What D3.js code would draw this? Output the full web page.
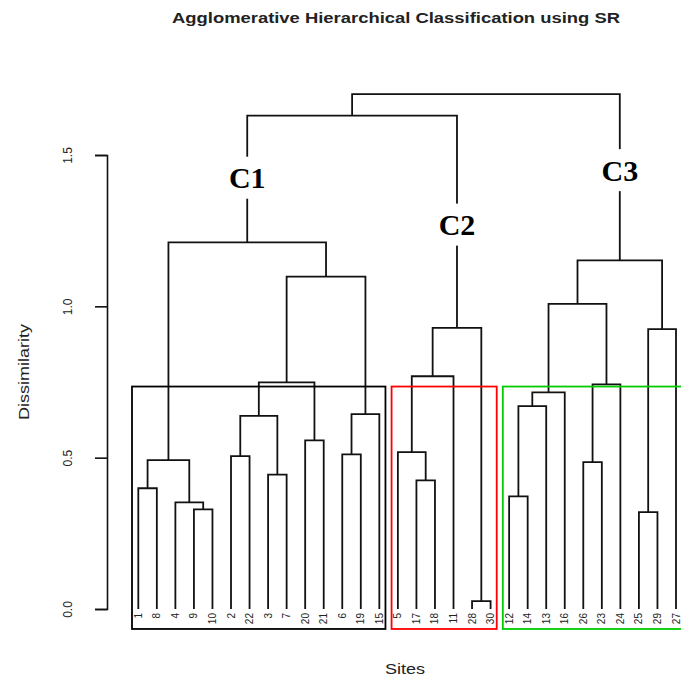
<!doctype html>
<html lang="en">
  <head>
    <meta charset="utf-8">
    <title>Agglomerative Hierarchical Classification using SR</title>
    <script src="https://d3js.org/d3.v7.min.js"></script>
    <style>
      body { margin: 0; background: #fff; }
      svg { display: block; font-family: 'Liberation Sans', Arial, sans-serif; }
    </style>
  </head>
  <body>
    <div id="root"></div>
  </body>
  <script>

    //data: leaf order, hclust-style merge table (negative = leaf position), heights
    const sites = ["1", "8", "4", "9", "10", "2", "22", "3", "7", "20", "21", "6", "19", "15",
                   "5", "17", "18", "11", "28", "30",
                   "12", "14", "13", "16", "26", "23", "24", "25", "29", "27"];
    const merges = [
      [-1, -2], [-4, -5], [-3, 2], [1, 3], [-6, -7], [-8, -9], [5, 6], [-10, -11], [7, 8],
      [-12, -13], [10, -14], [9, 11], [4, 12],
      [-16, -17], [-15, 14], [15, -18], [-19, -20], [16, 17], [13, 18],
      [-21, -22], [20, -23], [21, -24], [-25, -26], [23, -27], [22, 24], [-28, -29], [26, -30], [25, 27],
      [19, 28]
    ];
    const heights = [
      0.399, 0.329, 0.352, 0.492, 0.505, 0.444, 0.638, 0.557, 0.749,
      0.511, 0.644, 1.098, 1.211,
      0.425, 0.518, 0.769, 0.026, 0.929, 1.630,
      0.372, 0.670, 0.716, 0.485, 0.742, 1.008, 0.320, 0.925, 1.152,
      1.701
    ];
    // cluster boxes: first leaf, last leaf, colour
    const boxes = [[0, 13, "#000000"], [14, 19, "#ff0000"], [20, 29, "#00cd00"]];
    const boxTop = 0.735;
    // cluster labels: name, merge row, height where label sits
    const clusterNames = ["C1", "C2", "C3"];
    const clusterRows = [13, 18, 28];
    const clusterLabelH = [1.425, 1.27, 1.45];
    const yTicks = [0, 0.5, 1, 1.5];

    const width = 681;
    const height = 679;

    const x = d3.scaleLinear().domain([0, sites.length - 1]).range([138.3, 676]);
    const y = d3.scaleLinear().domain([0, 1.5]).range([609, 155]);

    const svg = d3.select("#root")
      .append("svg")
      .attr("width", width)
      .attr("height", height);

    //node positions
    const nodeX = [], nodeH = [];
    function pos(ref) {
      if (ref < 0) return [x(-ref - 1), 0];
      return [nodeX[ref - 1], nodeH[ref - 1]];
    }
    merges.forEach(function(m, i) {
      const a = pos(m[0]), b = pos(m[1]);
      nodeX[i] = (a[0] + b[0]) / 2;
      nodeH[i] = heights[i];
    });

    //dendrogram
    svg.append("g")
      .selectAll("path")
      .data(merges)
      .enter()
      .append("path")
      .attr("d", function(m, i) {
        const a = pos(m[0]), b = pos(m[1]);
        return "M" + a[0] + "," + y(a[1]) + "V" + y(heights[i]) + "H" + b[0] + "V" + y(b[1]);
      })
      .attr("fill", "none")
      .attr("stroke", "#111")
      .attr("stroke-width", 1.8);

    //leaf labels
    svg.append("g")
      .selectAll("text")
      .data(sites)
      .enter()
      .append("text")
      .text(function(d) { return d; })
      .attr("transform", function(d, i) {
        return "translate(" + (x(i) + 3.5) + "," + 613 + ") rotate(-90)";
      })
      .attr("text-anchor", "end")
      .attr("font-size", "10px")
      .attr("fill", "#222");

    //cluster boxes
    svg.append("g")
      .selectAll("rect")
      .data(boxes)
      .enter()
      .append("rect")
      .attr("x", function(d) { return x(d[0] - 0.34); })
      .attr("y", y(boxTop))
      .attr("width", function(d) { return x(d[1] + 0.33) - x(d[0] - 0.34); })
      .attr("height", y(-0.066) - y(boxTop))
      .attr("fill", "none")
      .attr("stroke", function(d) { return d[2]; })
      .attr("stroke-width", 1.8);

    //cluster names
    const cl = svg.append("g")
      .selectAll("g")
      .data(clusterNames)
      .enter()
      .append("g")
      .attr("transform", function(d, i) {
        return "translate(" + nodeX[clusterRows[i] - 1] + "," + y(clusterLabelH[i]) + ")";
      });
    cl.append("rect")
      .attr("x", -24).attr("y", -21).attr("width", 48).attr("height", 42)
      .attr("fill", "#fff");
    cl.append("text")
      .text(function(d) { return d; })
      .attr("text-anchor", "middle")
      .attr("dy", "0.35em")
      .attr("font-family", "'Liberation Serif', 'Times New Roman', serif")
      .attr("font-weight", "bold")
      .attr("font-size", "30px")
      .attr("fill", "#000");

    //y axis
    const axis = svg.append("g")
      .attr("transform", "translate(107,0)")
      .call(d3.axisLeft(y).tickValues(yTicks).tickSize(12).tickFormat(d3.format(".1f")));
    axis.select(".domain").attr("stroke", "#111").attr("stroke-width", 1.6);
    axis.selectAll(".tick line").attr("stroke", "#111").attr("stroke-width", 1.6);
    axis.selectAll(".tick text")
      .attr("transform", "rotate(-90)")
      .attr("x", 0)
      .attr("y", -35)
      .attr("dy", 0)
      .attr("text-anchor", "middle")
      .attr("font-size", "12px")
      .attr("fill", "#222");

    //titles
    svg.append("text")
      .text("Agglomerative Hierarchical Classification using SR")
      .attr("x", 396)
      .attr("y", 23)
      .attr("text-anchor", "middle")
      .attr("font-size", "14px")
      .attr("font-weight", "bold")
      .attr("textLength", 448)
      .attr("lengthAdjust", "spacingAndGlyphs")
      .attr("fill", "#222");

    svg.append("text")
      .text("Sites")
      .attr("x", 405)
      .attr("y", 674)
      .attr("text-anchor", "middle")
      .attr("font-size", "14px")
      .attr("textLength", 40)
      .attr("lengthAdjust", "spacingAndGlyphs")
      .attr("fill", "#222");

    svg.append("text")
      .text("Dissimilarity")
      .attr("transform", "translate(29,372) rotate(-90)")
      .attr("text-anchor", "middle")
      .attr("font-size", "14px")
      .attr("textLength", 96)
      .attr("lengthAdjust", "spacingAndGlyphs")
      .attr("fill", "#222");

  </script>
</html>
